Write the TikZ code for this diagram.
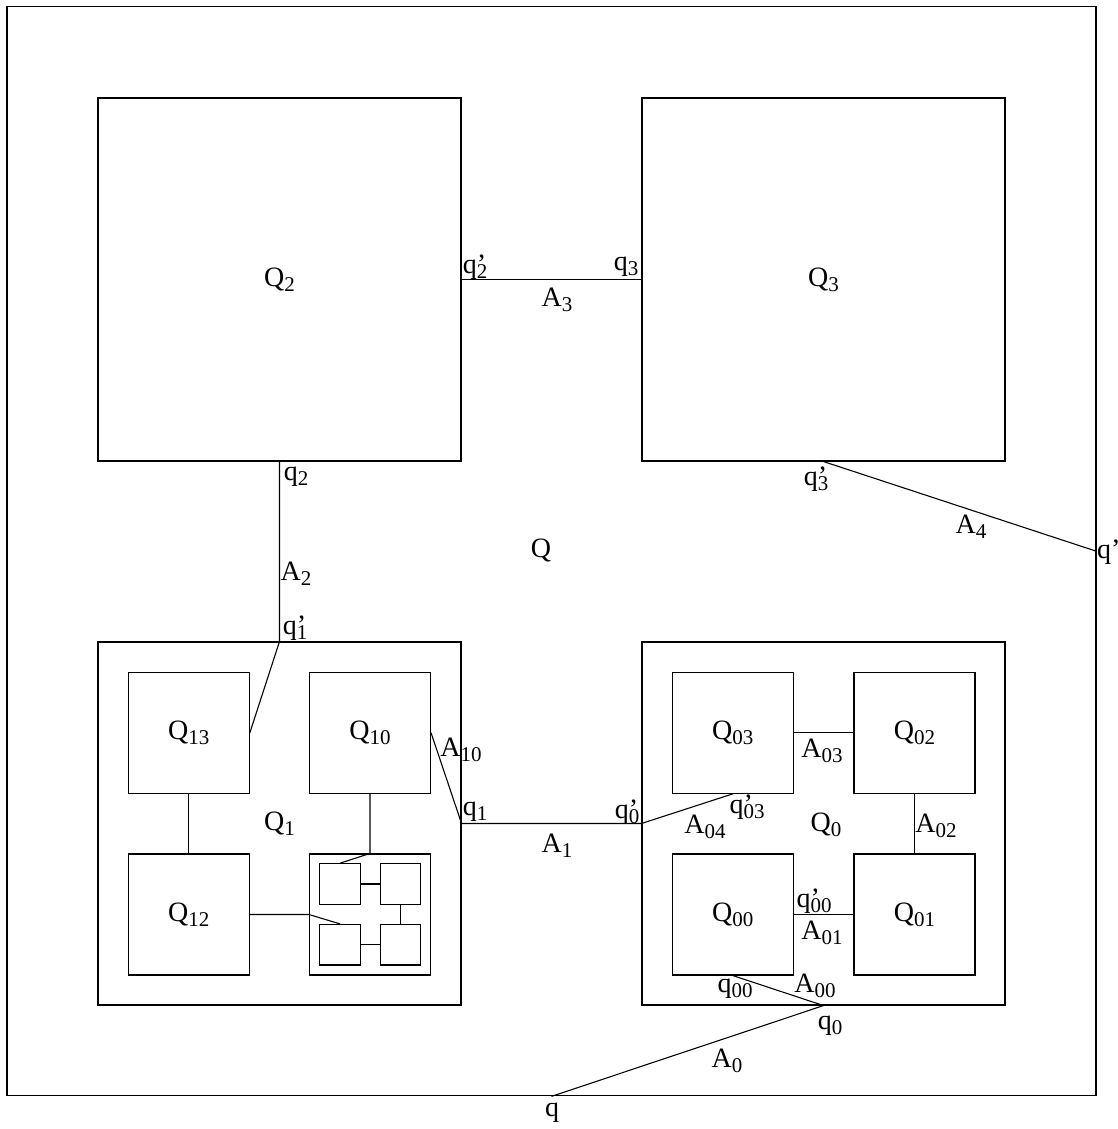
\documentclass[tikz,border=0pt]{standalone}
\usepackage{fontspec}
\setmainfont{Liberation Serif}
\newcommand{\subt}[1]{\raisebox{-5pt}{\fontsize{21}{21}\selectfont #1}}
\newcommand{\qpr}[1]{q\rlap{’}\subt{#1}}
\begin{document}
\begin{tikzpicture}[x=1pt,y=-1pt,
  every node/.style={font=\fontsize{28}{32}\selectfont, inner sep=0pt},
  box/.style={draw, line width=1.1pt, minimum size=#1, inner sep=0pt},
  conn/.style={line width=1.1pt},
  lbl/.style={inner sep=0pt}]
\useasboundingbox (0,0) rectangle (1118,1129);
% boxes
\node[box=1089] (outer) at (551.5,551.3) {};
\node[box=363] (Q2) at (279.5,279.5) {Q\subt{2}};
\node[box=363] (Q3) at (823.5,279.5) {Q\subt{3}};
\node[box=363] (Q1) at (279.5,823.5) {Q\subt{1}};
\node[box=363] (Q0) at (823.5,823.5) {};
\node[lbl] (Q0l) at (826,825) {Q\subt{0}};
\node[lbl] (Ql) at (541,550) {Q};
% Q1 children
\node[box=121] (Q13) at (188.8,732.8) {Q\subt{13}};
\node[box=121] (Q10) at (370,732.8) {Q\subt{10}};
\node[box=121] (Q12) at (188.8,914.5) {Q\subt{12}};
\node[box=121] (S) at (370,914.5) {};
\node[box=40.5] (t1) at (340,884) {};
\node[box=40.5] (t2) at (400.5,884) {};
\node[box=40.5] (t3) at (340,944.7) {};
\node[box=40.5] (t4) at (400.5,944.7) {};
% Q0 children
\node[box=121] (Q03) at (732.8,732.8) {Q\subt{03}};
\node[box=121] (Q02) at (914.5,732.8) {Q\subt{02}};
\node[box=121] (Q00) at (732.8,914.5) {Q\subt{00}};
\node[box=121] (Q01) at (914.5,914.5) {Q\subt{01}};
% connectors
\draw[conn] (Q2.east) -- (Q3.west);
\draw[conn] (Q2.south) -- (Q1.north) -- (Q13.east);
\draw[conn] (Q10.east) -- (Q1.east) -- (Q0.west) -- (Q03.south);
\draw[conn] (Q3.south) -- (outer.east);
\draw[conn] (Q00.south) -- (Q0.south) -- (outer.south);
\draw[conn] (Q03.east) -- (Q02.west);
\draw[conn] (Q02.south) -- (Q01.north);
\draw[conn] (Q00.east) -- (Q01.west);
\draw[conn] (Q13.south) -- (Q12.north);
\draw[conn] (Q10.south) -- (S.north) -- (t1.north);
\draw[conn] (Q12.east) -- (S.west) -- (t3.north);
\draw[conn] (t1.east) -- (t2.west);
\draw[conn] (t2.south) -- (t4.north);
\draw[conn] (t3.east) -- (t4.west);
% labels
\node[lbl] (l2p) at (475,267) {\qpr{2}};
\node[lbl] (l3) at (626,267) {q\subt{3}};
\node[lbl] (lA3) at (557,300) {A\subt{3}};
\node[lbl] (l2) at (296,477) {q\subt{2}};
\node[lbl] (lA2) at (296,574) {A\subt{2}};
\node[lbl] (l1p) at (295,628) {\qpr{1}};
\node[lbl] (lA10) at (461,750) {A\subt{10}};
\node[lbl] (l1) at (475,812) {q\subt{1}};
\node[lbl] (l0p) at (627,812) {\qpr{0}};
\node[lbl] (lA1) at (557,846) {A\subt{1}};
\node[lbl] (lA03) at (822,751) {A\subt{03}};
\node[lbl] (lA02) at (936,826) {A\subt{02}};
\node[lbl] (l03p) at (747,807) {\qpr{03}};
\node[lbl] (lA04) at (705,827) {A\subt{04}};
\node[lbl] (l00p) at (814,901) {\qpr{00}};
\node[lbl] (lA01) at (822,933) {A\subt{01}};
\node[lbl] (l00) at (735,989) {q\subt{00}};
\node[lbl] (lA00) at (815,986) {A\subt{00}};
\node[lbl] (l0) at (830,1026) {q\subt{0}};
\node[lbl] (lA0) at (727,1061) {A\subt{0}};
\node[lbl] (lq) at (552,1113) {q};
\node[lbl] (l3p) at (816,479) {\qpr{3}};
\node[lbl] (lA4) at (971,527) {A\subt{4}};
\node[lbl, anchor=west] (lqp) at (1097,552) {q’};
\end{tikzpicture}
\end{document}
